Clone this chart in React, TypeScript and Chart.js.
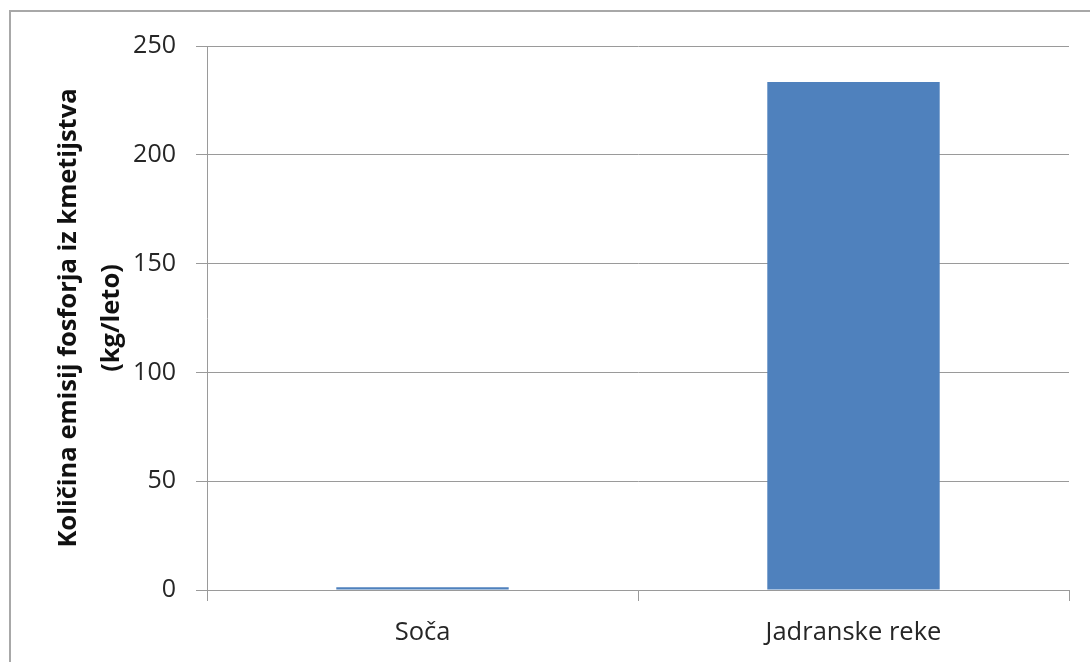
import React, { useEffect, useRef } from "react";
import { Chart, registerables } from "chart.js";

Chart.register(...registerables);

const categories = ["Soča", "Jadranske reke"];
const emissions = [1.3, 233.5];
const yTitle = ["Količina emisij fosforja iz kmetijstva", "(kg/leto)"];

const FONT = "'Open Sans', 'DejaVu Sans', sans-serif";

export default function App() {
  const ref = useRef<HTMLCanvasElement | null>(null);

  useEffect(() => {
    document.body.style.margin = "0";
    const canvas = ref.current;
    if (!canvas) return;
    const chart = new Chart(canvas, {
      type: "bar",
      data: {
        labels: categories,
        datasets: [
          {
            data: emissions,
            backgroundColor: "#4F81BD",
            borderWidth: 0,
            barPercentage: 0.4,
            categoryPercentage: 1,
          },
        ],
      },
      options: {
        animation: false,
        responsive: false,
        maintainAspectRatio: false,
        layout: { padding: { top: 46, right: 21, bottom: 0, left: 0 } },
        plugins: {
          legend: { display: false },
          tooltip: { enabled: false },
        },
        scales: {
          x: {
            grid: {
              display: true,
              drawOnChartArea: false,
              drawTicks: true,
              tickLength: 11,
              color: "#9a9a9a",
              lineWidth: 1,
            },
            border: { display: true, color: "#9a9a9a", width: 1 },
            ticks: {
              color: "#262626",
              padding: 16,
              font: { family: FONT, size: 25.5 },
            },
            afterFit: (scale: any) => {
              scale.height = 72;
            },
          },
          y: {
            min: 0,
            max: 250,
            grid: {
              color: "#9a9a9a",
              lineWidth: 1,
              tickLength: 11,
            },
            border: { display: true, color: "#9a9a9a", width: 1 },
            ticks: {
              stepSize: 50,
              color: "#262626",
              padding: 20,
              font: { family: FONT, size: 25 },
            },
            title: {
              display: true,
              text: yTitle,
              color: "#111",
              padding: { top: 47, bottom: 0 },
              font: { family: FONT, size: 25.5, weight: "bold", lineHeight: 43 / 25.5 },
            },
            afterFit: (scale: any) => {
              scale.width = 207;
            },
          },
        },
      },
    });
    return () => chart.destroy();
  }, []);

  return (
    <div style={{ position: "relative", width: 1090, height: 662, overflow: "hidden", background: "#fff" }}>
      <div
        style={{
          position: "absolute",
          left: 9,
          top: 10,
          width: 1200,
          height: 800,
          border: "2px solid #a8a8a8",
          boxSizing: "border-box",
        }}
      />
      <canvas ref={ref} width={1090} height={662} style={{ position: "absolute", left: 0, top: 0 }} />
    </div>
  );
}
